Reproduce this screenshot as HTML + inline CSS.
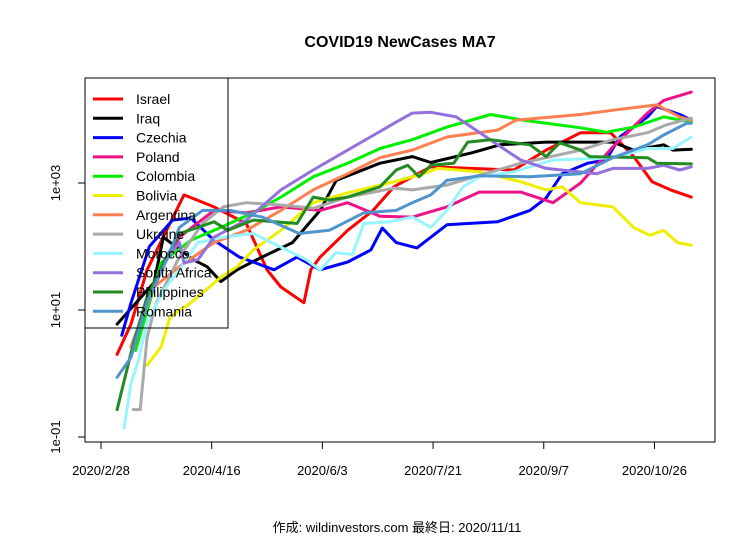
<!DOCTYPE html>
<html><head><meta charset="utf-8"><style>
body{margin:0;background:#fff}
svg{display:block;font-family:"Liberation Sans","Noto Sans CJK JP",sans-serif}
</style></head><body>
<svg id="chart" width="756" height="540">
<rect width="756" height="540" fill="#fff"/>
<text x="400" y="47" text-anchor="middle" font-size="16" font-weight="bold">COVID19 NewCases MA7</text>
<g id="series"></g>
<rect x="85" y="78" width="630" height="364" fill="none" stroke="#000"/>
<g id="axes"></g>
<g id="legend"></g>
<text x="397" y="532" text-anchor="middle" font-size="13">作成: wildinvestors.com 最終日: 2020/11/11</text>
</svg>
<script>
const names=["Israel","Iraq","Czechia","Poland","Colombia","Bolivia","Argentina","Ukraine","Morocco","South Africa","Philippines","Romania"];
const colors=["#ff0000","#000000","#0000ff","#ee1289","#00ee00","#eeee00","#ff7f50","#a9a9a9","#98f5ff","#9370db","#228b22","#4f94cd"];
const xTickLabels=["2020/2/28","2020/4/16","2020/6/3","2020/7/21","2020/9/7","2020/10/26"];
const xTickDays=[0,48,96,144,192,240];
const yTickValues=[0.1,10,1000];
const yTickLabels=["1e-01","1e+01","1e+03"];
const israelDays=[7,13,20,36,49,63,72,78,88,91,95,107,118,127,130,143,179,193,208,221,231,239,247,256];
const israelVals=[2,6,43,650,420,230,43,23,13,43,68,180,370,870,1000,1800,1600,3300,6200,6200,2600,1050,780,600];
const iraqDays=[7,23,27,40,46,52,59,69,83,95,102,121,135,143,161,173,193,222,231,244,248,256];
const iraqVals=[6,27,140,62,48,28,43,66,115,370,1100,2050,2600,2100,3000,4000,4400,4400,3300,4000,3300,3400];
const czechiaDays=[9,13,21,31,39,49,60,66,75,85,95,107,117,122,128,137,150,172,186,193,200,211,219,225,237,241,251,256];
const czechiaVals=[4,13,100,260,280,125,68,57,43,68,43,57,88,195,115,95,220,245,370,580,1400,2050,2300,5300,11000,16000,12000,9800];
const polandDays=[13,24,34,49,63,78,95,107,121,135,150,164,182,196,208,222,237,244,256];
const polandVals=[2.6,33,140,370,340,420,370,490,300,290,420,720,720,490,1000,3700,12600,20000,27000];
const colombiaDays=[15,26,39,52,66,78,92,107,121,135,150,169,183,208,219,231,244,256];
const colombiaVals=[2.3,55,125,200,340,600,1250,2050,3500,4800,7600,12000,9800,7400,6300,7600,11000,9100];
const boliviaDays=[20,26,30,39,52,59,66,78,92,107,125,140,146,164,182,193,200,208,222,231,238,244,250,256];
const boliviaVals=[1.35,2.6,7.8,13,33,48,88,180,490,700,1000,1400,1700,1500,1050,780,870,490,420,200,150,180,115,105];
const argentinaDays=[13,23,34,49,63,78,92,107,121,135,150,172,180,208,222,241,251,256];
const argentinaVals=[2.6,23,48,115,180,370,780,1400,2500,3300,5300,6800,9800,12000,14000,17000,11000,9800];
const ukraineDays=[14,17,20,24,34,44,53,63,78,92,107,127,135,150,172,182,208,222,237,245,256];
const ukraineVals=[0.27,0.27,3.7,13,68,230,420,490,450,400,600,830,780,930,1600,2050,3300,4800,6200,8200,10500];
const moroccoDays=[10,13,16,20,27,34,42,53,66,78,89,95,102,109,114,125,135,143,150,157,164,179,196,222,237,248,256];
const moroccoVals=[0.14,0.7,1.5,6.3,20,43,115,140,160,98,62,43,80,75,230,245,290,200,370,870,1250,1500,2300,2500,3500,3500,5300];
const southAfricaDays=[14,20,29,34,36,42,49,63,78,92,107,128,135,143,154,164,172,182,193,215,222,237,244,251,256];
const southAfricaVals=[3,16,68,115,55,62,140,260,780,1600,3300,9100,12600,13000,11000,6300,4000,2300,1700,1400,1700,1700,1900,1600,1800];
const philippinesDays=[7,13,20,27,34,42,49,55,66,85,92,99,107,121,128,133,138,143,153,159,169,186,193,199,208,212,237,241,256];
const philippinesVals=[0.27,2.1,16,55,160,200,245,180,260,230,600,540,600,870,1600,1900,1250,1900,2050,4400,4800,4000,2600,4300,3300,2600,2500,2050,2000];
const romaniaDays=[7,13,20,29,34,44,56,70,86,99,114,128,135,143,150,164,186,208,222,237,244,254,256];
const romaniaVals=[0.87,1.8,13,68,200,370,370,290,160,180,340,370,490,650,1100,1300,1250,1400,2500,4000,5700,8700,8700];
const allDays=[israelDays,iraqDays,czechiaDays,polandDays,colombiaDays,boliviaDays,argentinaDays,ukraineDays,moroccoDays,southAfricaDays,philippinesDays,romaniaDays];
const allVals=[israelVals,iraqVals,czechiaVals,polandVals,colombiaVals,boliviaVals,argentinaVals,ukraineVals,moroccoVals,southAfricaVals,philippinesVals,romaniaVals];

const NS="http://www.w3.org/2000/svg";
function xScale(d){return 101+d*2.306;}
function yScale(v){return 183-(Math.log10(v)-3)*63.5;}
function mk(t,a){const e=document.createElementNS(NS,t);for(const k in a)e.setAttribute(k,a[k]);return e;}
const sg=document.getElementById('series');
for(let i=0;i<names.length;i++){
  const pts=allDays[i].map((d,j)=>xScale(d).toFixed(1)+","+yScale(allVals[i][j]).toFixed(1)).join(" ");
  const p=mk('polyline',{points:pts,fill:'none',stroke:colors[i],'stroke-width':3,'stroke-linejoin':'round','stroke-linecap':'round'});
  
  
  sg.appendChild(p);
}
const ax=document.getElementById('axes');
for(let i=0;i<xTickDays.length;i++){
  const x=xScale(xTickDays[i]);
  const t=mk('line',{x1:x,x2:x,y1:442,y2:449,stroke:'#000'});
  
  
  ax.appendChild(t);
  const l=mk('text',{x:x,y:475,'text-anchor':'middle','font-size':13});
  
  
  l.textContent=xTickLabels[i];ax.appendChild(l);
}
for(let i=0;i<yTickValues.length;i++){
  const y=yScale(yTickValues[i]);
  const t=mk('line',{x1:78,x2:85,y1:y,y2:y,stroke:'#000'});
  
  
  ax.appendChild(t);
  const l=mk('text',{x:0,y:0,'text-anchor':'middle','font-size':13,transform:`translate(60,${y}) rotate(-90)`});
  
  
  l.textContent=yTickLabels[i];ax.appendChild(l);
}
const lg=document.getElementById('legend');
const box=mk('rect',{x:85,y:78,width:143,height:250,fill:'none',stroke:'#000'});


lg.appendChild(box);
for(let i=0;i<names.length;i++){
  const y=99+i*19.3;
  const ln=mk('line',{x1:93,x2:123,y1:y,y2:y,stroke:colors[i],'stroke-width':3});
  
  
  lg.appendChild(ln);
  const tx=mk('text',{x:136,y:y+5,'font-size':14});
  
  
  tx.textContent=names[i];lg.appendChild(tx);
}
</script>
</body></html>
